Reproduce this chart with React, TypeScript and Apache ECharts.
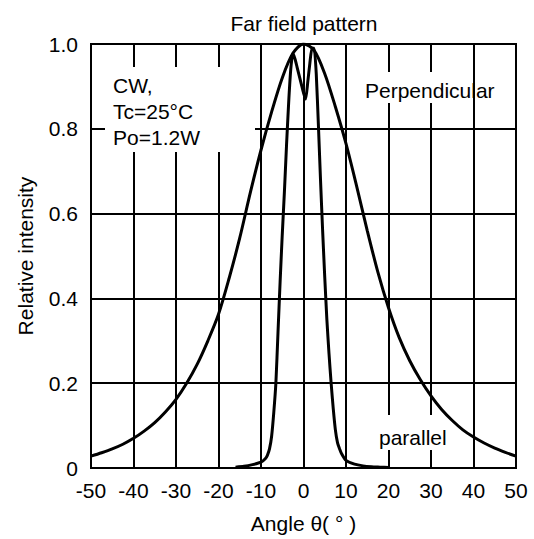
import React, { useEffect, useRef } from "react";
import * as echarts from "echarts";

// Perpendicular (wide) far-field curve
const perpAngle = [-50, -47.5, -45, -42.5, -40, -37.5, -35, -32.5, -30, -27.5, -25, -22.5, -20, -17.5, -15, -12.5, -10, -7.5, -5, -2.5, 0, 2.5, 5, 7.5, 10, 12.5, 15, 17.5, 20, 22.5, 25, 27.5, 30, 32.5, 35, 37.5, 40, 42.5, 45, 47.5, 50];
const perpIntensity = [0.028, 0.036, 0.045, 0.056, 0.07, 0.087, 0.107, 0.132, 0.162, 0.2, 0.245, 0.3, 0.3625, 0.4475, 0.5425, 0.65, 0.75, 0.84, 0.92, 0.978, 1.0, 0.985, 0.93, 0.852, 0.765, 0.665, 0.56, 0.462, 0.378, 0.308, 0.253, 0.208, 0.17, 0.138, 0.112, 0.09, 0.073, 0.059, 0.047, 0.037, 0.028];

// Parallel (narrow, double-peaked) far-field curve
const paraAngle = [-16, -14, -12, -10, -9, -8.5, -8, -7.5, -7, -6.5, -6, -5.5, -5, -4.5, -4, -3.5, -3, -2.5, -2, -1.5, -1, -0.5, 0, 0.5, 1, 1.5, 2, 2.5, 3, 3.5, 4, 4.5, 5, 5.5, 6, 6.5, 7, 7.5, 8, 8.5, 9, 10, 12, 14, 16, 18, 20];
const paraIntensity = [0.002, 0.004, 0.008, 0.014, 0.022, 0.03, 0.045, 0.075, 0.13, 0.2, 0.32, 0.44, 0.55, 0.65, 0.76, 0.86, 0.94, 0.978, 0.965, 0.945, 0.925, 0.905, 0.885, 0.87, 0.91, 0.955, 0.99, 0.99, 0.93, 0.81, 0.68, 0.56, 0.45, 0.35, 0.27, 0.2, 0.14, 0.09, 0.06, 0.045, 0.033, 0.018, 0.009, 0.005, 0.003, 0.002, 0.001];

const titleText = "Far field pattern";
const xName = "Angle θ( ° )";
const yName = "Relative intensity";
const conditionLines = ["CW,", "Tc=25°C", "Po=1.2W"];
const perpLabel = "Perpendicular";
const paraLabel = "parallel";

export default function App() {
  const ref = useRef<HTMLDivElement>(null);
  useEffect(() => {
    document.body.style.margin = "0";
    const chart = echarts.init(ref.current!, null, { renderer: "svg" });
    const font = "'Liberation Sans', Arial, sans-serif";
    const fs = 21;
    const axisCommon = {
      axisLine: { show: true, lineStyle: { color: "#000", width: 2 } },
      axisTick: { show: false },
      splitLine: { show: true, lineStyle: { color: "#000", width: 2 } },
      nameTextStyle: { color: "#000", fontSize: fs, fontFamily: font },
    };
    chart.setOption({
      animation: false,
      backgroundColor: "#fff",
      grid: { left: 91, right: 18, top: 44, bottom: 70, show: true, borderColor: "#000", borderWidth: 2 },
      xAxis: {
        ...axisCommon,
        type: "value",
        min: -50,
        max: 50,
        interval: 10,
        name: xName,
        nameLocation: "middle",
        nameGap: 45,
        axisLabel: { color: "#000", fontSize: fs, fontFamily: font, margin: 12 },
      },
      yAxis: {
        ...axisCommon,
        type: "value",
        min: 0,
        max: 1,
        interval: 0.2,
        name: yName,
        nameLocation: "middle",
        nameGap: 55,
        axisLabel: {
          color: "#000",
          fontSize: fs,
          fontFamily: font,
          margin: 13,
          padding: [8, 0, 0, 0],
          formatter: (v: number) => (v === 0 ? "0" : v.toFixed(1)),
        },
      },
      series: [
        {
          type: "line",
          name: perpLabel,
          data: perpAngle.map((a, i) => [a, perpIntensity[i]]),
          showSymbol: false,
          smooth: 0.3,
          lineStyle: { color: "#000", width: 3 },
          z: 3,
        },
        {
          type: "line",
          name: paraLabel,
          data: paraAngle.map((a, i) => [a, paraIntensity[i]]),
          showSymbol: false,
          smooth: 0.2,
          lineStyle: { color: "#000", width: 3 },
          z: 3,
        },
      ],
      graphic: [
        {
          type: "text",
          x: 304,
          y: 23,
          style: { text: titleText, fill: "#000", font: `${fs}px ${font}`, textAlign: "center", textVerticalAlign: "middle" },
        },
        { type: "rect", z: 1, shape: { x: 105, y: 67, width: 150, height: 85 }, style: { fill: "#fff" } },
        ...conditionLines.map((t, i) => ({
          type: "text",
          z: 4,
          x: 113,
          y: 85 + i * 26,
          style: { text: t, fill: "#000", font: `${fs}px ${font}`, textAlign: "left", textVerticalAlign: "middle" },
        })),
        { type: "rect", z: 1, shape: { x: 370, y: 72, width: 75, height: 31 }, style: { fill: "#fff" } },
        {
          type: "text",
          z: 4,
          x: 365,
          y: 90,
          style: { text: perpLabel, fill: "#000", font: `${fs}px ${font}`, textAlign: "left", textVerticalAlign: "middle" },
        },
        { type: "rect", z: 1, shape: { x: 375, y: 415, width: 75, height: 35 }, style: { fill: "#fff" } },
        {
          type: "text",
          z: 4,
          x: 379,
          y: 437,
          style: { text: paraLabel, fill: "#000", font: `${fs}px ${font}`, textAlign: "left", textVerticalAlign: "middle" },
        },
      ],
    });
    return () => chart.dispose();
  }, []);
  return <div ref={ref} style={{ width: 534, height: 539 }} />;
}
